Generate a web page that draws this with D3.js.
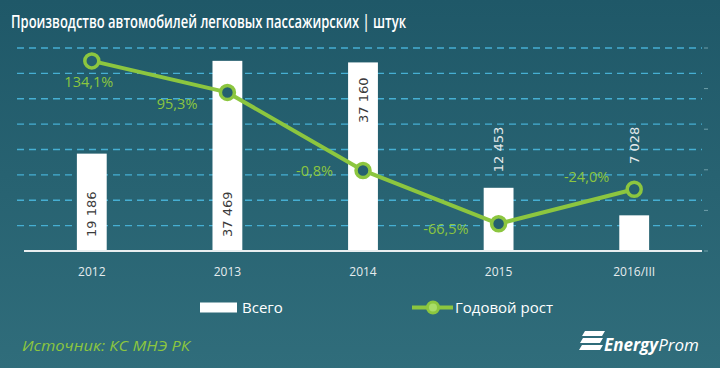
<!DOCTYPE html>
<html><head><meta charset="utf-8">
<script src="https://cdn.jsdelivr.net/npm/d3@7"></script>
<style>html,body{margin:0;padding:0;background:#25606f;}svg{display:block;}</style>
</head><body>
<svg id="c" width="720" height="368"></svg>
<script>
// ---- data ----
const categories = ["2012", "2013", "2014", "2015", "2016/III"];
const totalValues = [19186, 37469, 37160, 12453, 7028];
const totalLabels = ["19 186", "37 469", "37 160", "12 453", "7 028"];
const growthValues = [134.1, 95.3, -0.8, -66.5, -24.0];
const growthLabels = ["134,1%", "95,3%", "-0,8%", "-66,5%", "-24,0%"];
const leftTicks = [0, 5000, 10000, 15000, 20000, 25000, 30000, 35000, 40000];
const rightTicks = [-100, -50, 0, 50, 100, 150];
const title = "Производство автомобилей легковых пассажирских | штук";
const legendNames = ["Всего", "Годовой рост"];
const sourceText = "Источник: КС МНЭ РК";

// ---- layout ----
const svg = d3.select("#c");
const W = 720, H = 368;
const plotL = 24, plotR = 702, plotT = 48, plotB = 251;
const green = "#8cc63f";

const defs = svg.append("defs");
const grad = defs.append("linearGradient").attr("id", "bg").attr("x1", 0).attr("y1", 0).attr("x2", 0).attr("y2", 1);
grad.append("stop").attr("offset", "0%").attr("stop-color", "#1f5868");
grad.append("stop").attr("offset", "100%").attr("stop-color", "#306d7b");
svg.append("rect").attr("width", W).attr("height", H).attr("fill", "url(#bg)");

// title
svg.append("text").attr("x", 11).attr("y", 28)
  .attr("font-family", "'Open Sans', sans-serif").attr("font-weight", 600)
  .attr("font-size", 18).attr("fill", "#ffffff")
  .attr("textLength", 395).attr("lengthAdjust", "spacingAndGlyphs")
  .text(title);

const x = d3.scaleBand().domain(categories).range([plotL, plotR]).padding(0);
const y = d3.scaleLinear().domain([0, 40000]).range([plotB, plotT]);
const y2 = d3.scaleLinear().domain([-100, 150]).range([plotB, plotT]);
const cx = d => x(d) + x.bandwidth() / 2;
const barW = x.bandwidth() * 0.22;

// gridlines
svg.append("g").selectAll("line").data(leftTicks.filter(t => t > 0)).join("line")
  .attr("x1", 17).attr("x2", plotR).attr("y1", d => y(d)).attr("y2", d => y(d))
  .attr("stroke", "#46afd3").attr("stroke-width", 1.4).attr("stroke-dasharray", "7,5");

// right axis faint ticks
svg.append("g").selectAll("line").data(rightTicks).join("line")
  .attr("x1", 704).attr("x2", 708).attr("y1", d => y2(d)).attr("y2", d => y2(d))
  .attr("stroke", "#6f9faa").attr("stroke-width", 1);

// bars
svg.append("g").selectAll("rect").data(totalValues).join("rect")
  .attr("x", (d, i) => cx(categories[i]) - barW / 2)
  .attr("y", d => y(d)).attr("width", barW).attr("height", d => plotB - y(d))
  .attr("fill", "#ffffff");

// baseline
svg.append("line").attr("x1", plotL).attr("x2", plotR).attr("y1", plotB).attr("y2", plotB)
  .attr("stroke", "#e8eef0").attr("stroke-width", 2);

// bar value labels (rotated)
const barLabelMode = ["base", "base", "end", "out", "out"];
svg.append("g").selectAll("text").data(totalValues).join("text")
  .attr("transform", (d, i) => {
    const m = barLabelMode[i];
    let yy;
    if (m === "base") yy = plotB - 14;
    else if (m === "end") yy = y(d) + 15;
    else yy = y(24500);
    return `translate(${cx(categories[i]) + 4.5},${yy}) rotate(-90)`;
  })
  .attr("text-anchor", (d, i) => barLabelMode[i] === "base" ? "start" : "end")
  .attr("font-family", "'DejaVu Sans', sans-serif").attr("font-size", 13)
  .attr("fill", (d, i) => barLabelMode[i] === "out" ? "#e4e9ea" : "#3a3a3a")
  .text((d, i) => totalLabels[i]);

// line
const line = d3.line().x((d, i) => cx(categories[i])).y(d => y2(d));
svg.append("path").datum(growthValues).attr("d", line)
  .attr("fill", "none").attr("stroke", green).attr("stroke-width", 4).attr("stroke-linejoin", "round");
svg.append("g").selectAll("circle").data(growthValues).join("circle")
  .attr("cx", (d, i) => cx(categories[i])).attr("cy", d => y2(d)).attr("r", 7)
  .attr("fill", "#25606f").attr("stroke", green).attr("stroke-width", 3.5);

// growth labels
const gOff = [[-3, 26, "middle"], [-30, 17, "end"], [-30, 6, "end"], [-30, 10, "end"], [-25, -7, "end"]];
svg.append("g").selectAll("text").data(growthValues).join("text")
  .attr("x", (d, i) => cx(categories[i]) + gOff[i][0])
  .attr("y", (d, i) => y2(d) + gOff[i][1])
  .attr("text-anchor", (d, i) => gOff[i][2])
  .attr("font-family", "'Open Sans', sans-serif").attr("font-size", 14.5)
  .attr("fill", green)
  .text((d, i) => growthLabels[i]);

// x axis labels
svg.append("g").selectAll("text").data(categories).join("text")
  .attr("x", d => cx(d)).attr("y", 276).attr("text-anchor", "middle")
  .attr("font-family", "'Open Sans', sans-serif").attr("font-size", 12)
  .attr("fill", "#e6ecee").text(d => d);

// legend
svg.append("rect").attr("x", 200).attr("y", 302.5).attr("width", 37).attr("height", 10).attr("fill", "#ffffff");
svg.append("text").attr("x", 242).attr("y", 312.5)
  .attr("font-family", "'Open Sans', sans-serif").attr("font-size", 15).attr("fill", "#ffffff")
  .text(legendNames[0]);
svg.append("line").attr("x1", 412).attr("x2", 453).attr("y1", 307.5).attr("y2", 307.5)
  .attr("stroke", green).attr("stroke-width", 4);
svg.append("circle").attr("cx", 433).attr("cy", 307.5).attr("r", 5.5)
  .attr("fill", "#a9dc68").attr("stroke", green).attr("stroke-width", 3);
svg.append("text").attr("x", 455).attr("y", 312.5)
  .attr("font-family", "'Open Sans', sans-serif").attr("font-size", 15).attr("fill", "#ffffff")
  .text(legendNames[1]);

// source
svg.append("text").attr("x", 22).attr("y", 351)
  .attr("font-family", "'Open Sans', sans-serif").attr("font-style", "italic").attr("font-size", 15)
  .attr("fill", green).attr("textLength", 168).attr("lengthAdjust", "spacingAndGlyphs")
  .text(sourceText);

// logo
const logo = svg.append("g").attr("fill", "#ffffff");
[[582, 331, 20], [580, 338, 20], [579, 345, 21]].forEach(([lx, ly, lw]) => {
  logo.append("path").attr("d", `M${lx + 3},${ly} L${lx + lw + 3},${ly} L${lx + lw},${ly + 5} L${lx},${ly + 5} Z`);
});
const lt = svg.append("text").attr("x", 604).attr("y", 351)
  .attr("font-family", "'Open Sans', sans-serif").attr("font-style", "italic").attr("font-size", 17)
  .attr("fill", "#ffffff");
lt.append("tspan").attr("font-weight", 700).text("Energy");
lt.append("tspan").attr("font-weight", 400).text("Prom");
</script>
</body></html>
